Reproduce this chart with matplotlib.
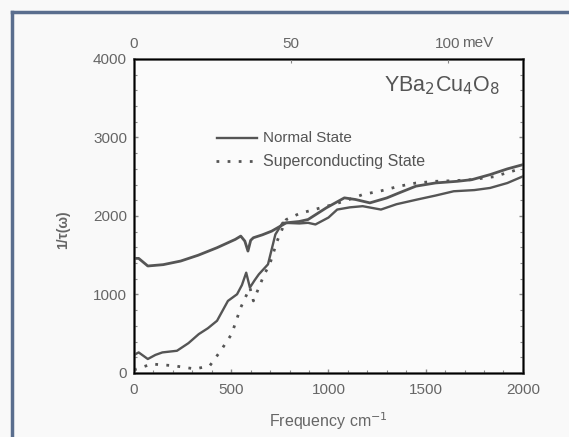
import matplotlib
matplotlib.use("Agg")
import matplotlib.pyplot as plt
from matplotlib.lines import Line2D
from matplotlib.ticker import MultipleLocator

plt.rcParams['font.family'] = ['Liberation Sans', 'DejaVu Sans']

# Normal state (upper solid)
normal_f = [0, 24, 71, 150, 240, 330, 427, 521, 549, 570, 586, 600, 614, 660, 708, 783, 850, 895, 989, 1082, 1139, 1213, 1300, 1363, 1450, 1551, 1663, 1738, 1831, 1920, 2000]
normal_v = [1460, 1460, 1363, 1380, 1426, 1500, 1596, 1702, 1744, 1680, 1553, 1690, 1723, 1760, 1807, 1913, 1930, 1955, 2104, 2231, 2210, 2167, 2230, 2294, 2380, 2421, 2442, 2463, 2527, 2600, 2654]

# Second solid curve (lower solid)
lower_f = [0, 24, 71, 110, 146, 221, 280, 333, 380, 427, 483, 530, 555, 577, 596, 620, 642, 689, 727, 764, 800, 850, 895, 933, 1000, 1045, 1110, 1176, 1270, 1350, 1457, 1550, 1644, 1750, 1831, 1920, 2000]
lower_v = [230, 262, 178, 230, 262, 283, 380, 495, 570, 665, 918, 1003, 1120, 1278, 1088, 1180, 1257, 1384, 1765, 1913, 1910, 1905, 1913, 1892, 1980, 2082, 2110, 2125, 2082, 2150, 2210, 2260, 2315, 2330, 2357, 2420, 2505]

# Superconducting state (dotted)
sc_f = [0, 15, 90, 202, 315, 390, 446, 502, 549, 596, 614, 642, 670, 698, 736, 783, 850, 895, 1000, 1082, 1176, 1270, 1363, 1450, 1551, 1650, 1738, 1850, 2000]
sc_v = [40, 51, 114, 93, 51, 93, 284, 495, 834, 1088, 918, 1088, 1257, 1384, 1680, 1955, 2030, 2061, 2130, 2188, 2273, 2320, 2379, 2420, 2442, 2450, 2463, 2500, 2611]

xticks = [0, 500, 1000, 1500, 2000]
yticks = [0, 1000, 2000, 3000, 4000]
top_tick_pos = [0, 806.5, 1613]
top_tick_labels = ['0', '50', '100']

fig = plt.figure(figsize=(5.69, 4.37), dpi=100, facecolor='#f9f9f9')
ax = fig.add_axes([0.2355, 0.1465, 0.6835, 0.7185])
ax.set_facecolor('#fbfbfb')

lc = '#555555'
ax.plot(normal_f, normal_v, color=lc, lw=2.0)
ax.plot(lower_f, lower_v, color=lc, lw=1.7)
ax.plot(sc_f, sc_v, color=lc, lw=2.0, linestyle=(0, (1, 3)))

ax.set_xlim(0, 2000)
ax.set_ylim(0, 4000)
ax.set_xticks(xticks)
ax.set_yticks(yticks)
ax.xaxis.set_minor_locator(MultipleLocator(100))
ax.yaxis.set_minor_locator(MultipleLocator(200))
tc = '#666666'
ax.tick_params(which='both', direction='in', colors='#888888', labelcolor=tc, labelsize=11)
ax.tick_params(which='major', length=3, width=1)
ax.tick_params(which='minor', length=2, width=0.8)
ax.tick_params(axis='y', which='both', right=True, pad=5)
ax.tick_params(axis='x', which='major', pad=7)
for s in ax.spines.values():
    s.set_color('#3a3a3a')
    s.set_linewidth(1.8)

ax2 = ax.twiny()
ax2.set_xlim(0, 2000)
ax2.set_xticks(top_tick_pos)
ax2.set_xticklabels(top_tick_labels)
ax2.tick_params(direction='in', length=3, colors='#888888', labelcolor=tc, labelsize=11, pad=6)
ax.text(1688, 1.052, 'meV', transform=ax.get_xaxis_transform(), ha='left', va='center',
        fontsize=11, color=tc)

ax.set_xlabel('Frequency cm$^{-1}$', color=tc, fontsize=11.5)
ax.xaxis.set_label_coords(0.5, -0.12)
ax.set_ylabel('1/τ(ω)', color=tc, fontsize=10, fontweight='bold')
ax.yaxis.set_label_coords(-0.165, 0.455)

ax.text(0.941, 0.915, 'YBa$_2$Cu$_4$O$_8$', transform=ax.transAxes, ha='right', va='center',
        fontsize=15.5, color='#555555')

# legend drawn manually
ax.plot([427, 632], [2990, 2990], color=lc, lw=1.7)
ax.plot([420, 632], [2700, 2700], color=lc, lw=2.0, linestyle=(0, (1, 3)))
ax.text(662, 2990, 'Normal State', va='center', ha='left', fontsize=11, color='#555555')
ax.text(662, 2700, 'Superconducting State', va='center', ha='left', fontsize=11.5, color='#555555')

# outer frame (left and top edges)
fc = '#5a6e8e'
fig.add_artist(Line2D([12/569, 12/569], [0, 1 - 12/437], color=fc, lw=2.5, transform=fig.transFigure))
fig.add_artist(Line2D([12/569, 1], [1 - 12/437, 1 - 12/437], color=fc, lw=2.5, transform=fig.transFigure))

fig.savefig('out.png', dpi=100, facecolor=fig.get_facecolor())
